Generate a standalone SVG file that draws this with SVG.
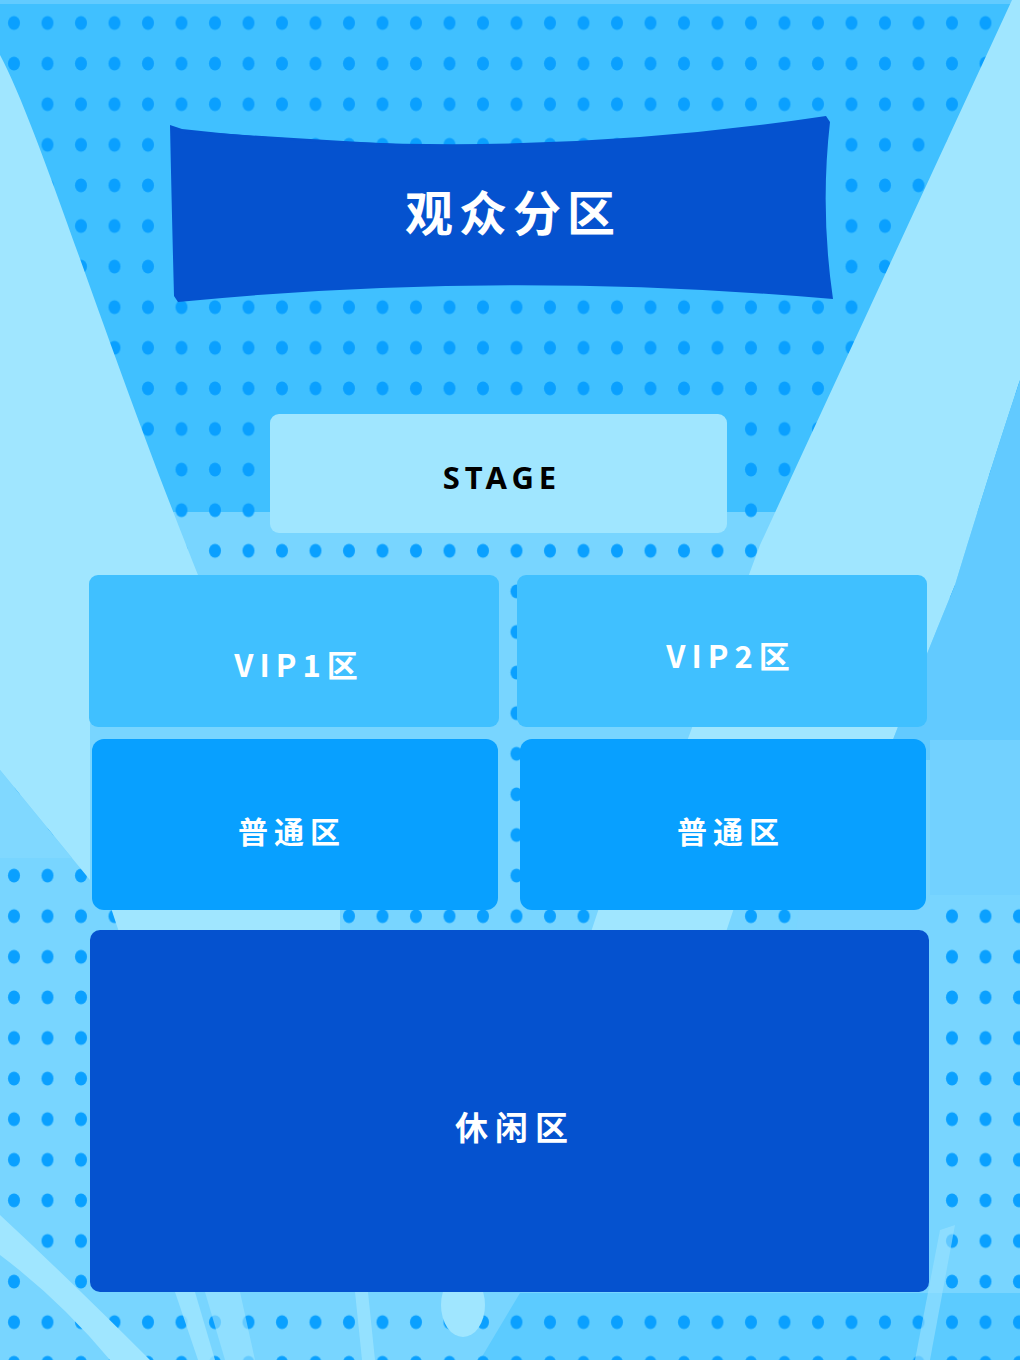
<svg xmlns="http://www.w3.org/2000/svg" width="1020" height="1360" viewBox="0 0 1020 1360">
  <defs>
    <pattern id="dots" x="-2.75" y="2.7" width="33.5" height="40.6" patternUnits="userSpaceOnUse">
      <ellipse cx="16.75" cy="20.3" rx="6" ry="7" fill="#0aa0ff"/>
    </pattern>
    <style>
      .lbl { font-family: "Noto Sans CJK SC", "Noto Sans", sans-serif; font-weight: 700; fill: #ffffff; text-anchor: middle; }
      .light { fill: #a0e6ff; }
      .zone-vip { fill: #40c0ff; }
      .zone-std { fill: #08a0ff; }
      .zone-dark { fill: #0552cf; }
    </style>
  </defs>

  <!-- background -->
  <g id="background">
    <rect x="0" y="0" width="1020" height="1360" fill="#40c0ff"/>
    <rect x="0" y="0" width="1020" height="4" fill="#62cbff"/>
    <rect x="0" y="512" width="1020" height="848" fill="#78d5ff"/>
    <path d="M520,1293 L1020,1293 L1020,1360 L480,1360 Z" fill="#5ccbff"/>
    <rect x="0" y="0" width="1020" height="1360" fill="url(#dots)"/>
    <!-- left light wedge -->
    <path class="light" d="M0,55 C40,130 100,330 200,580 L200,600 L90,600 L90,880 L0,770 Z"/>
    <path d="M0,770 L72,858 L0,858 Z" fill="#80d8ff"/>
    <!-- right light band -->
    <path class="light" d="M1012,0 L1020,0 L1020,380 Q990,470 955,585 Q920,670 885,760 L680,760 L760,545 Z"/>
    <!-- right side lower area without dots -->
    <path d="M1020,380 Q990,470 955,585 Q920,670 885,760 L930,760 L930,895 L1020,895 Z" fill="#62caff"/>
    <path d="M930,740 L1020,740 L1020,895 L930,895 Z" fill="#72d1ff"/>
    <!-- gaps light patches -->
    <path class="light" d="M110,905 L340,905 L340,935 L120,935 Z"/>
    <path class="light" d="M600,905 L735,905 L725,935 L590,935 Z"/>
    <path d="M800,905 L930,905 L930,935 L795,935 Z" fill="#7ad4ff"/>
    <!-- bottom-left light arc -->
    <path class="light" d="M0,1215 Q70,1280 150,1360 L110,1360 Q60,1300 0,1255 Z"/>
    <!-- bottom streaks -->
    <path class="light" d="M175,1292 L195,1292 L215,1360 L198,1360 Z" opacity="0.8"/>
    <path class="light" d="M205,1292 L240,1292 L255,1360 L225,1360 Z" opacity="0.6"/>
    <path class="light" d="M355,1292 L368,1292 L375,1360 L362,1360 Z" opacity="0.7"/>
    <ellipse class="light" cx="463" cy="1305" rx="22" ry="32"/>
    <path d="M940,1230 L955,1225 L930,1360 L915,1360 Z" fill="#9be3ff" opacity="0.6"/>
  </g>

  <!-- title banner -->
  <g id="title">
    <path class="zone-dark" d="M170,125 L182,129 Q500,165 826,116 L830,122 Q820,210 833,299 Q500,270 178,302 L174,296 Q172,220 170,125 Z"/>
    <path d="M185,132 Q300,140 430,147" stroke="#0552cf" stroke-width="2" fill="none"/>
    <text class="lbl" x="513" y="231" font-size="48" letter-spacing="6">观众分区</text>
  </g>

  <g id="stage">
    <rect class="light" x="270" y="414" width="457" height="119" rx="9"/>
    <text x="502" y="489" font-family="'Noto Sans', 'Open Sans', sans-serif" font-weight="700" font-size="31" letter-spacing="5" fill="#000000" text-anchor="middle">STAGE</text>
  </g>

  <g id="vip1">
    <rect class="zone-vip" x="89" y="575" width="410" height="152" rx="9"/>
    <text class="lbl" x="299" y="677" font-size="31" letter-spacing="6">VIP1区</text>
  </g>

  <g id="vip2">
    <rect class="zone-vip" x="517" y="575" width="410" height="152" rx="9"/>
    <text class="lbl" x="731" y="668" font-size="31" letter-spacing="6">VIP2区</text>
  </g>

  <g id="standard-left">
    <rect class="zone-std" x="92" y="739" width="406" height="171" rx="12"/>
    <text class="lbl" x="292" y="843" font-size="30" letter-spacing="6">普通区</text>
  </g>

  <g id="standard-right">
    <rect class="zone-std" x="520" y="739" width="406" height="171" rx="12"/>
    <text class="lbl" x="731" y="843" font-size="30" letter-spacing="6">普通区</text>
  </g>

  <g id="leisure">
    <rect class="zone-dark" x="90" y="930" width="839" height="362" rx="10"/>
    <text class="lbl" x="515" y="1140" font-size="33" letter-spacing="7">休闲区</text>
  </g>

  <g id="connectors"/>
</svg>
